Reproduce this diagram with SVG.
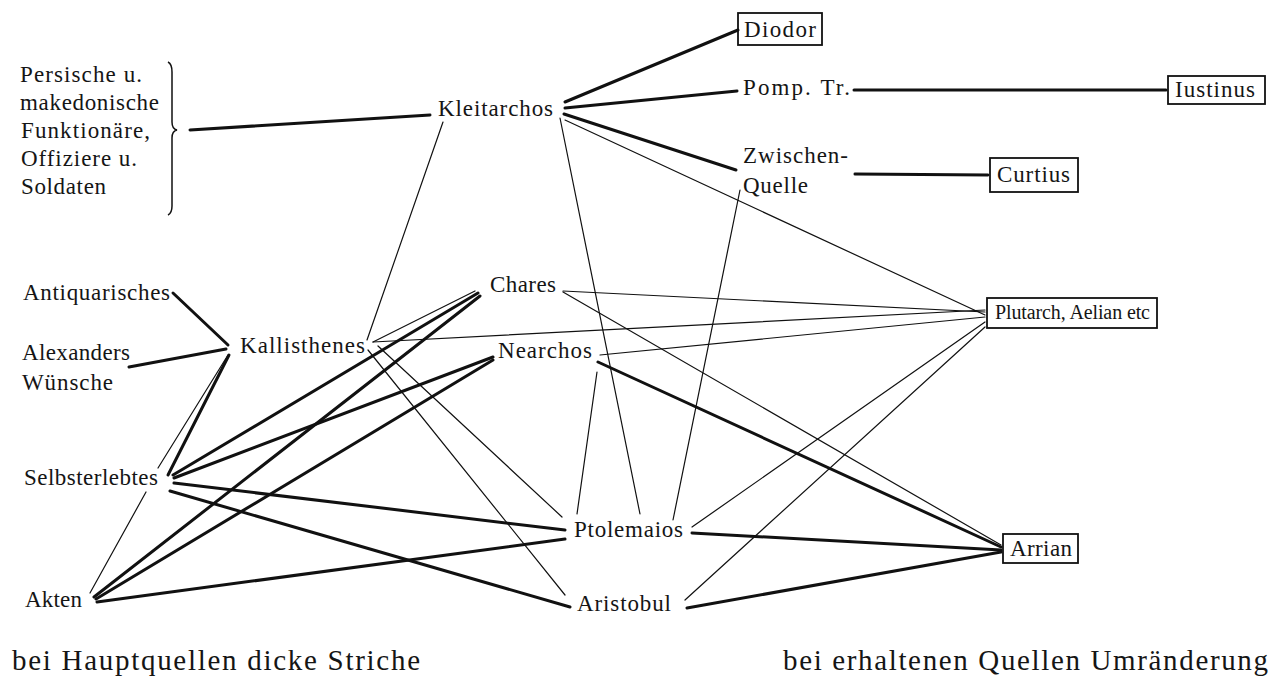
<svg xmlns="http://www.w3.org/2000/svg" width="1272" height="677" viewBox="0 0 1272 677">
<style>
text{font-family:"Liberation Serif","Times New Roman",serif;font-size:23px;fill:#151515}
.big{font-size:29px}
.small{font-size:20px}
.thick{stroke:#111;stroke-width:3;fill:none;stroke-linecap:round}
.thin{stroke:#111;stroke-width:1.2;fill:none;stroke-linecap:round}
.box{fill:none;stroke:#111;stroke-width:1.8}
</style>
<rect width="1272" height="677" fill="#fff"/>
<g id="connectors">
<line class="thick" x1="190" y1="130" x2="430" y2="115"/>
<line class="thick" x1="565" y1="102" x2="738" y2="30"/>
<line class="thick" x1="565" y1="108" x2="737" y2="91"/>
<line class="thick" x1="854" y1="90" x2="1166" y2="90"/>
<line class="thick" x1="564" y1="114" x2="736" y2="170"/>
<line class="thick" x1="855" y1="174" x2="988" y2="175"/>
<line class="thick" x1="173" y1="293" x2="228" y2="345"/>
<line class="thick" x1="129" y1="367" x2="226" y2="349"/>
<line class="thick" x1="229" y1="355" x2="168" y2="475"/>
<line class="thick" x1="173" y1="475" x2="478" y2="293"/>
<line class="thick" x1="174" y1="478" x2="493" y2="357"/>
<line class="thick" x1="174" y1="483" x2="565" y2="530"/>
<line class="thick" x1="170" y1="491" x2="570" y2="607"/>
<line class="thick" x1="94" y1="597" x2="480" y2="296"/>
<line class="thick" x1="96" y1="599" x2="493" y2="360"/>
<line class="thick" x1="97" y1="602" x2="565" y2="539"/>
<line class="thick" x1="598" y1="362" x2="1001" y2="547"/>
<line class="thick" x1="692" y1="533" x2="1001" y2="550"/>
<line class="thick" x1="687" y1="608" x2="1001" y2="552"/>
<line class="thin" x1="443" y1="122" x2="367" y2="340"/>
<line class="thin" x1="565" y1="120" x2="985" y2="315"/>
<line class="thin" x1="560" y1="118" x2="640" y2="514"/>
<line class="thin" x1="740" y1="190" x2="673" y2="520"/>
<line class="thin" x1="373" y1="342" x2="475" y2="291"/>
<line class="thin" x1="373" y1="342" x2="985" y2="310"/>
<line class="thin" x1="378" y1="346" x2="562" y2="517"/>
<line class="thin" x1="368" y1="350" x2="565" y2="595"/>
<line class="thin" x1="90" y1="593" x2="146" y2="492"/>
<line class="thin" x1="158" y1="468" x2="228" y2="355"/>
<line class="thin" x1="563" y1="291" x2="985" y2="312"/>
<line class="thin" x1="563" y1="292" x2="1001" y2="545"/>
<line class="thin" x1="600" y1="355" x2="985" y2="317"/>
<line class="thin" x1="597" y1="372" x2="577" y2="514"/>
<line class="thin" x1="985" y1="322" x2="692" y2="527"/>
<line class="thin" x1="985" y1="327" x2="685" y2="600"/>
</g>
<g id="persische">
<text x="20" y="82" textLength="122">Persische u.</text>
<text x="20" y="110" textLength="139">makedonische</text>
<text x="21" y="138" textLength="129">Funktionäre,</text>
<text x="21" y="166" textLength="116">Offiziere u.</text>
<text x="21" y="194" textLength="85">Soldaten</text>
<path d="M168 62 Q172 64 172 72 L172 122 Q172 129 177 130 Q172 131 172 138 L172 206 Q172 213 168 215" fill="none" stroke="#111" stroke-width="1.5"/>
</g>
<g id="kleitarchos"><text x="438" y="116" textLength="115">Kleitarchos</text></g>
<g id="diodor"><rect class="box" x="738" y="13" width="84" height="32"/><text x="744" y="37" textLength="72">Diodor</text></g>
<g id="pomp"><text x="743" y="95" textLength="107">Pomp. Tr.</text></g>
<g id="iustinus"><rect class="box" x="1168" y="76" width="97" height="28"/><text x="1175" y="97" textLength="80">Iustinus</text></g>
<g id="zwischenquelle"><text x="743" y="163" textLength="105">Zwischen-</text><text x="743" y="193" textLength="65">Quelle</text></g>
<g id="curtius"><rect class="box" x="990" y="158" width="88" height="34"/><text x="997" y="182" textLength="73">Curtius</text></g>
<g id="plutarch"><rect class="box" x="987" y="298" width="170" height="30"/><text class="small" x="995" y="319" textLength="155">Plutarch, Aelian etc</text></g>
<g id="antiquarisches"><text x="23" y="300" textLength="147">Antiquarisches</text></g>
<g id="alexanders"><text x="22" y="360" textLength="108">Alexanders</text><text x="22" y="390" textLength="91">Wünsche</text></g>
<g id="kallisthenes"><text x="240" y="353" textLength="125">Kallisthenes</text></g>
<g id="chares"><text x="490" y="292" textLength="66">Chares</text></g>
<g id="nearchos"><text x="498" y="358" textLength="94">Nearchos</text></g>
<g id="selbsterlebtes"><text x="24" y="485" textLength="134">Selbsterlebtes</text></g>
<g id="akten"><text x="25" y="607" textLength="57">Akten</text></g>
<g id="ptolemaios"><text x="574" y="537" textLength="109">Ptolemaios</text></g>
<g id="aristobul"><text x="577" y="611" textLength="94">Aristobul</text></g>
<g id="arrian"><rect class="box" x="1003" y="534" width="75" height="29"/><text x="1010" y="556" textLength="62">Arrian</text></g>
<g id="legend">
<text class="big" x="12" y="670" textLength="408">bei Hauptquellen dicke Striche</text>
<text class="big" x="783" y="670" textLength="485">bei erhaltenen Quellen Umränderung</text>
</g>
</svg>
